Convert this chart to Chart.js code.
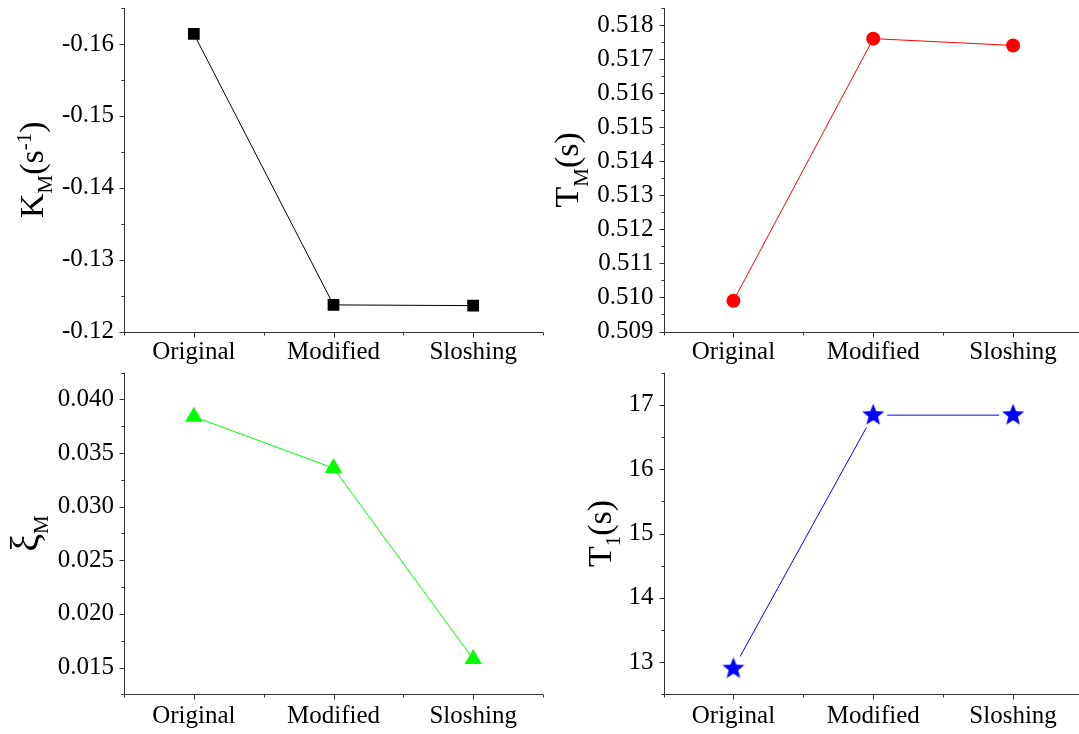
<!DOCTYPE html>
<html>
<head>
<meta charset="utf-8">
<title>Model parameters</title>
<script src="https://cdn.jsdelivr.net/npm/chart.js@4.4.0/dist/chart.umd.min.js"></script>
<style>
  html, body { margin: 0; padding: 0; background: #fff; overflow: hidden; }
  body { width: 1079px; height: 734px; position: relative; }
  canvas { position: absolute; }
</style>
</head>
<body>
<canvas id="kmChart" width="545" height="372" style="left:0;top:0"></canvas>
<canvas id="tmChart" width="545" height="372" style="left:540px;top:0"></canvas>
<canvas id="xiChart" width="545" height="374" style="left:0;top:360px"></canvas>
<canvas id="t1Chart" width="545" height="374" style="left:540px;top:360px"></canvas>
<script>
// ---------------------------------------------------------------------------
// Data
// ---------------------------------------------------------------------------
const categories = ['Original', 'Modified', 'Sloshing'];

const kmValues = [-0.1614, -0.1237, -0.1236];
const tmValues = [0.5099, 0.5176, 0.5174];
const xiValues = [0.0384, 0.0336, 0.0158];
const t1Values = [12.9, 16.84, 16.84];

const kmTicks = [-0.16, -0.15, -0.14, -0.13, -0.12];
const tmTicks = [0.509, 0.510, 0.511, 0.512, 0.513, 0.514, 0.515, 0.516, 0.517, 0.518];
const xiTicks = [0.015, 0.020, 0.025, 0.030, 0.035, 0.040];
const t1Ticks = [13, 14, 15, 16, 17];

const kmRange = [-0.165, -0.12];
const tmRange = [0.509, 0.5185];
const xiRange = [0.0125, 0.0425];
const t1Range = [12.5, 17.5];

// ---------------------------------------------------------------------------
// Shared styling
// ---------------------------------------------------------------------------
const SERIF = '"Liberation Serif", "Times New Roman", serif';
const tickFont = { family: SERIF, size: 25 };
const AXIS_COLOR = '#333';

// axis lines plus major/minor tick marks, drawn outward
function axisFrame(majorTicks) {
    return {
        id: 'axisFrame',
        afterDraw(chart) {
            const ctx = chart.ctx;
            const area = chart.chartArea;
            const xs = chart.scales.x;
            const ys = chart.scales.y;
            const ax = Math.round(area.left) + 0.5;
            const ay = Math.round(area.bottom) + 0.5;

            ctx.save();
            ctx.strokeStyle = AXIS_COLOR;
            ctx.lineWidth = 1;
            ctx.beginPath();
            ctx.moveTo(ax, area.top);
            ctx.lineTo(ax, ay);
            ctx.lineTo(area.right, ay);

            // y ticks: every half step, majors longer
            const step = majorTicks[1] - majorTicks[0];
            const n = Math.round((ys.max - ys.min) / (step / 2));
            for (let i = 0; i <= n; i++) {
                const v = ys.min + i * step / 2;
                const major = majorTicks.some(t => Math.abs(t - v) < step * 1e-3);
                const py = Math.round(ys.getPixelForValue(v)) + 0.5;
                ctx.moveTo(ax, py);
                ctx.lineTo(ax - (major ? 5 : 3), py);
            }

            // x ticks: at each category and halfway between
            for (let i = -1; i < categories.length * 2; i++) {
                const v = i / 2;
                const major = i % 2 === 0;
                const px = Math.round(xs.getPixelForValue(v)) + 0.5;
                ctx.moveTo(px, ay);
                ctx.lineTo(px, ay + (major ? 5 : 3));
            }
            ctx.stroke();
            ctx.restore();
        }
    };
}

// rotated axis title made of runs with sub/superscript shifts
function sideTitle(parts, gap) {
    return {
        id: 'sideTitle',
        afterDraw(chart) {
            const ctx = chart.ctx;
            const area = chart.chartArea;
            ctx.save();
            const widths = parts.map(p => {
                ctx.font = p.size + 'px ' + SERIF;
                return ctx.measureText(p.text).width;
            });
            const total = widths.reduce((a, b) => a + b, 0);
            ctx.translate(area.left - gap, (area.top + area.bottom) / 2);
            ctx.rotate(-Math.PI / 2);
            ctx.fillStyle = '#000';
            ctx.textBaseline = 'alphabetic';
            ctx.textAlign = 'left';
            let cx = -total / 2;
            parts.forEach((p, i) => {
                ctx.font = p.size + 'px ' + SERIF;
                ctx.fillText(p.text, cx, p.shift || 0);
                cx += widths[i];
            });
            ctx.restore();
        }
    };
}

// filled five-point star with a white halo so the line stops short of it
function starMarker(color) {
    const c = document.createElement('canvas');
    c.width = 30;
    c.height = 30;
    const g = c.getContext('2d');
    g.fillStyle = '#fff';
    g.beginPath();
    g.arc(15, 15, 14, 0, Math.PI * 2);
    g.fill();
    g.beginPath();
    for (let i = 0; i < 10; i++) {
        const r = i % 2 ? 5 : 11.6;
        const a = -Math.PI / 2 + i * Math.PI / 5;
        g.lineTo(15 + r * Math.cos(a), 15 + r * Math.sin(a));
    }
    g.closePath();
    g.fillStyle = color;
    g.fill();
    return c;
}

function buildChart(id, cfg) {
    const ctx = document.getElementById(id);
    return new Chart(ctx, {
        type: 'line',
        data: {
            labels: categories,
            datasets: [{
                data: cfg.values,
                borderColor: cfg.color,
                backgroundColor: cfg.color,
                borderWidth: 1,
                tension: 0,
                pointStyle: cfg.pointStyle,
                pointRadius: cfg.pointRadius,
                pointBorderWidth: 0,
                pointHoverRadius: cfg.pointRadius
            }]
        },
        options: {
            responsive: false,
            animation: false,
            devicePixelRatio: 1,
            layout: {
                autoPadding: false,
                padding: { left: 0, right: 2, top: cfg.top, bottom: 0 }
            },
            plugins: {
                legend: { display: false },
                tooltip: { enabled: false }
            },
            scales: {
                x: {
                    type: 'category',
                    offset: true,
                    grid: { display: false, drawTicks: false },
                    border: { display: false },
                    ticks: { font: tickFont, color: '#000', padding: cfg.xPad, maxRotation: 0, autoSkip: false },
                    afterFit: s => {
                        s.height = cfg.xHeight;
                        // plot edges are fixed, no room reserved for edge labels
                        s.paddingLeft = 0;
                        s.paddingRight = 0;
                    }
                },
                y: {
                    type: 'linear',
                    min: cfg.range[0],
                    max: cfg.range[1],
                    reverse: !!cfg.reverse,
                    grid: { display: false, drawTicks: false },
                    border: { display: false },
                    ticks: {
                        font: tickFont,
                        color: '#000',
                        padding: 10,
                        autoSkip: false,
                        callback: v => cfg.format(v)
                    },
                    afterBuildTicks: s => { s.ticks = cfg.ticks.map(v => ({ value: v })); },
                    afterFit: s => {
                        s.width = cfg.yWidth;
                        s.paddingTop = 0;
                        s.paddingBottom = 0;
                    }
                }
            }
        },
        plugins: [axisFrame(cfg.ticks), sideTitle(cfg.title, cfg.titleGap)]
    });
}

// ---------------------------------------------------------------------------
// K_M (top left) - reversed axis
// ---------------------------------------------------------------------------
buildChart('kmChart', {
    values: kmValues,
    ticks: kmTicks,
    range: kmRange,
    reverse: true,
    format: v => v.toFixed(2),
    color: '#000000',
    pointStyle: 'rect',
    pointRadius: 8.3,
    top: 8,
    xHeight: 40.5,
    xPad: 6,
    yWidth: 124,
    titleGap: 81,
    title: [
        { text: 'K', size: 34 },
        { text: 'M', size: 21, shift: 9 },
        { text: '(s', size: 34 },
        { text: '-1', size: 21, shift: -12 },
        { text: ')', size: 34 }
    ]
});

// ---------------------------------------------------------------------------
// T_M (top right)
// ---------------------------------------------------------------------------
buildChart('tmChart', {
    values: tmValues,
    ticks: tmTicks,
    range: tmRange,
    format: v => v.toFixed(3),
    color: '#ff0000',
    pointStyle: 'circle',
    pointRadius: 7,
    top: 8,
    xHeight: 40.5,
    xPad: 6,
    yWidth: 123.5,
    titleGap: 85.5,
    title: [
        { text: 'T', size: 34 },
        { text: 'M', size: 21, shift: 9.5 },
        { text: '(s)', size: 34 }
    ]
});

// ---------------------------------------------------------------------------
// xi_M (bottom left)
// ---------------------------------------------------------------------------
buildChart('xiChart', {
    values: xiValues,
    ticks: xiTicks,
    range: xiRange,
    format: v => v.toFixed(3),
    color: '#00ff00',
    pointStyle: 'triangle',
    pointRadius: 10,
    top: 12.7,
    xHeight: 39.7,
    xPad: 7,
    yWidth: 124,
    titleGap: 85.5,
    title: [
        { text: 'ξ', size: 40, shift: -1 },
        { text: 'M', size: 21, shift: 9.5 }
    ]
});

// ---------------------------------------------------------------------------
// T_1 (bottom right)
// ---------------------------------------------------------------------------
buildChart('t1Chart', {
    values: t1Values,
    ticks: t1Ticks,
    range: t1Range,
    format: v => String(Math.round(v)),
    color: '#0000ff',
    pointStyle: starMarker('#0000ff'),
    pointRadius: 12,
    top: 12.7,
    xHeight: 39.7,
    xPad: 7,
    yWidth: 123.5,
    titleGap: 53,
    title: [
        { text: 'T', size: 34 },
        { text: '1', size: 21, shift: 9 },
        { text: '(s)', size: 34 }
    ]
});
</script>
</body>
</html>
